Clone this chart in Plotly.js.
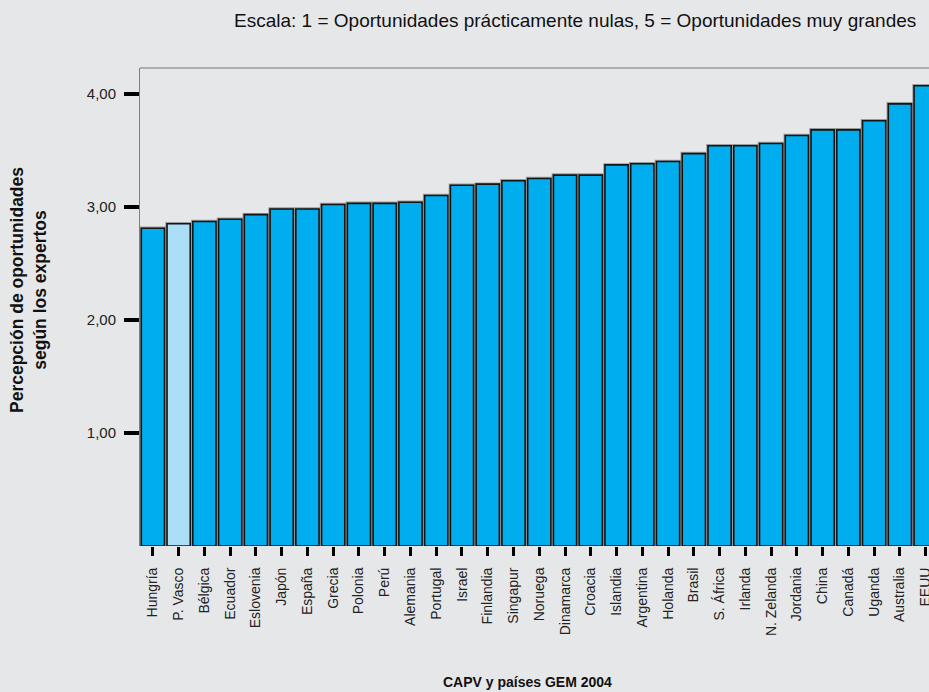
<!DOCTYPE html>
<html>
<head>
<meta charset="utf-8">
<script src="https://cdn.plot.ly/plotly-3.0.1.min.js"></script>
<style>
html,body{margin:0;padding:0;background:#e6e7e9;overflow:hidden;}
#chart{width:929px;height:692px;}
</style>
</head>
<body>
<div id="chart"></div>
<script>
const countries = ["Hungría","P. Vasco","Bélgica","Ecuador","Eslovenia","Japón","España","Grecia","Polonia","Perú","Alemania","Portugal","Israel","Finlandia","Singapur","Noruega","Dinamarca","Croacia","Islandia","Argentina","Holanda","Brasil","S. África","Irlanda","N. Zelanda","Jordania","China","Canadá","Uganda","Australia","EEUU"];
const values = [2.81,2.85,2.87,2.89,2.93,2.98,2.98,3.02,3.03,3.03,3.04,3.10,3.19,3.20,3.23,3.25,3.28,3.28,3.37,3.38,3.40,3.47,3.54,3.54,3.56,3.63,3.68,3.68,3.76,3.91,4.07];
const highlight = "P. Vasco";
const yTicks = [1,2,3,4];

const colors = countries.map(c => c === highlight ? "#aadff7" : "#00adef");

const halo = {
  type: "bar", x: countries, y: values,
  marker: {color: colors, line: {color: "#9a9b9d", width: 3.5}},
  width: 0.9, hoverinfo: "skip", showlegend: false
};
const bars = {
  type: "bar", x: countries, y: values,
  marker: {color: colors, line: {color: "#151515", width: 1.6}},
  width: 0.9, showlegend: false
};

const layout = {
  width: 929, height: 692,
  margin: {l: 140, r: 0, t: 68, b: 146},
  paper_bgcolor: "#e6e7e9", plot_bgcolor: "#e6e7e9",
  separators: ",.",
  barmode: "overlay",
  font: {family: "Liberation Sans, Arial, sans-serif", color: "#222"},
  xaxis: {
    type: "category", range: [-0.5, 30.13],
    showgrid: false, zeroline: false, showline: false,
    ticks: "outside", ticklen: 9, tickwidth: 3, tickcolor: "#000",
    tickangle: -90, ticklabelstandoff: 6,
    tickfont: {size: 14, color: "#222"}
  },
  yaxis: {
    range: [0, 4.227], tickvals: yTicks, tickformat: ".2f",
    showgrid: false, zeroline: false,
    showline: true, linecolor: "#7d7e80", linewidth: 1,
    ticks: "outside", ticklen: 15, tickwidth: 4, tickcolor: "#000",
    ticklabelstandoff: 5,
    tickfont: {size: 15, color: "#222"}
  },
  shapes: [
    {type: "line", xref: "paper", yref: "paper", x0: 0, x1: 1, y0: 1, y1: 1,
     line: {color: "#9a9b9d", width: 1.5}}
  ],
  annotations: [
    {text: "Escala: 1 = Oportunidades prácticamente nulas, 5 = Oportunidades muy grandes",
     xref: "paper", yref: "paper", x: (575-140)/789, y: (546-21)/478,
     xanchor: "center", yanchor: "middle", showarrow: false,
     font: {size: 19, color: "#111"}},
    {text: "<b>CAPV y países GEM 2004</b>",
     xref: "paper", yref: "paper", x: (527-140)/789, y: (546-682)/478,
     xanchor: "center", yanchor: "middle", showarrow: false,
     font: {size: 14, color: "#111"}},
    {text: "<b>Percepción de oportunidades<br>según los expertos</b>",
     xref: "paper", yref: "paper", x: (28-140)/789, y: (546-290)/478,
     xanchor: "center", yanchor: "middle", showarrow: false, textangle: -90,
     font: {size: 17.5, color: "#111"}}
  ]
};

Plotly.newPlot("chart", [halo, bars], layout, {displayModeBar: false, staticPlot: true});
</script>
</body>
</html>
